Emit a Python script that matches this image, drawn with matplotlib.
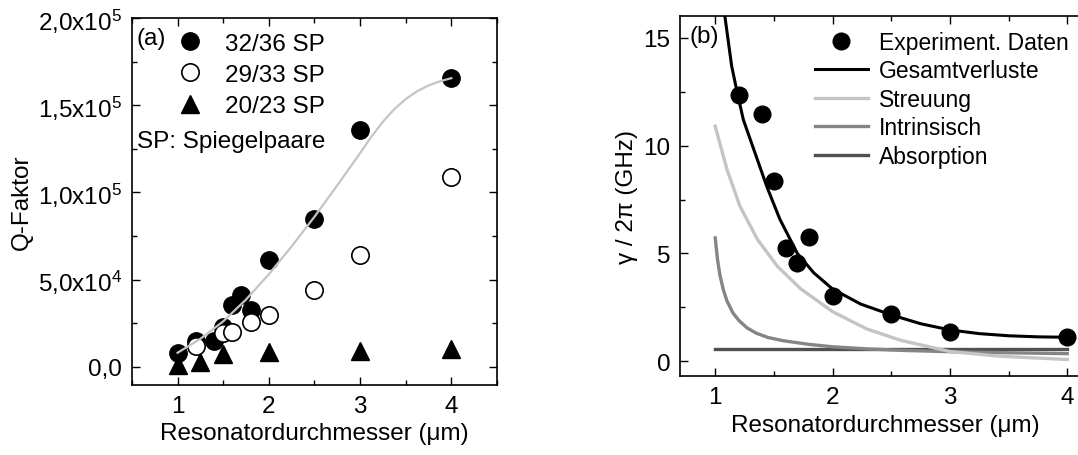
import matplotlib
matplotlib.use("Agg")
import matplotlib.pyplot as plt
from matplotlib.ticker import MultipleLocator, FuncFormatter

plt.rcParams['font.family'] = ['Liberation Sans', 'DejaVu Sans']
plt.rcParams['font.size'] = 17.5
plt.rcParams['mathtext.fontset'] = 'custom'
plt.rcParams['mathtext.rm'] = 'Liberation Sans'

# --- (a) Q-Faktor data ---
x_3236 = [1.0, 1.2, 1.4, 1.5, 1.6, 1.7, 1.8, 2.0, 2.5, 3.0, 4.0]
q_3236 = [7.9e3, 1.5e4, 1.5e4, 2.25e4, 3.55e4, 4.1e4, 3.25e4, 6.1e4, 8.45e4, 1.36e5, 1.655e5]
x_2933 = [1.2, 1.5, 1.6, 1.8, 2.0, 2.5, 3.0, 4.0]
q_2933 = [1.2e4, 1.95e4, 2.0e4, 2.55e4, 2.95e4, 4.4e4, 6.4e4, 1.09e5]
x_2023 = [1.0, 1.25, 1.5, 2.0, 3.0, 4.0]
q_2023 = [1.2e3, 2.9e3, 7.3e3, 8.3e3, 8.8e3, 1.02e4]
fit_x = [1.0, 1.25, 1.5, 1.75, 2.0, 2.25, 2.5, 2.75, 3.0, 3.125, 3.25, 3.375,
         3.5, 3.625, 3.75, 3.875, 4.0]
fit_q = [8e3, 1.6e4, 2.6e4, 3.85e4, 5.3e4, 6.9e4, 8.6e4, 1.04e5, 1.225e5, 1.32e5, 1.405e5, 1.477e5,
         1.535e5, 1.58e5, 1.613e5, 1.637e5, 1.655e5]

# --- (b) Verluste data ---
exp_x = [1.2, 1.4, 1.5, 1.6, 1.7, 1.8, 2.0, 2.5, 3.0, 4.0]
exp_g = [12.37, 11.45, 8.37, 5.23, 4.57, 5.74, 3.03, 2.18, 1.37, 1.11]
ges_x = [1.08, 1.14, 1.19, 1.24, 1.34, 1.44, 1.55, 1.70, 1.84, 2.0, 2.24, 2.5, 2.75, 3.0, 3.25, 3.5, 3.75, 4.0]
ges_g = [16.1, 13.7, 12.4, 11.2, 9.65, 8.1, 6.6, 5.0, 4.1, 3.35, 2.65, 2.15, 1.74, 1.45, 1.28, 1.18, 1.13, 1.11]
str_x = [1.0, 1.1, 1.21, 1.36, 1.53, 1.73, 2.0, 2.29, 2.58, 3.0, 3.43, 4.0]
str_g = [10.9, 8.9, 7.2, 5.65, 4.4, 3.35, 2.3, 1.5, 0.97, 0.45, 0.23, 0.08]
int_x = [1.0, 1.02, 1.04, 1.07, 1.1, 1.15, 1.2, 1.27, 1.35, 1.45, 1.58, 1.8, 2.0, 2.3, 2.6, 3.15, 4.0]
int_g = [5.72, 4.7, 4.0, 3.3, 2.8, 2.25, 1.9, 1.55, 1.3, 1.1, 0.95, 0.78, 0.67, 0.57, 0.5, 0.42, 0.35]
abs_x = [1.0, 4.0]
abs_g = [0.57, 0.57]

fig = plt.figure(figsize=(10.78, 4.56), dpi=100)
ax1 = fig.add_axes([0.1224, 0.1535, 0.3386, 0.8048])
ax2 = fig.add_axes([0.6308, 0.1726, 0.381, 0.7894])


def style_axis(ax):
    ax.tick_params(which='both', direction='in', top=True, right=True, width=1)
    ax.tick_params(which='major', length=6, pad=7)
    ax.tick_params(which='minor', length=3.5)
    for s in ax.spines.values():
        s.set_linewidth(1.2)


# ===== (a) =====
ax1.plot(x_3236, q_3236, 'o', color='black', ms=12.5, label='32/36 SP', zorder=2)
ax1.plot(x_2933, q_2933, 'o', mfc='white', mec='black', mew=1.2, ms=12.5, label='29/33 SP', zorder=3)
ax1.plot(x_2023, q_2023, '^', color='black', ms=13.5, label='20/23 SP', zorder=2)
ax1.plot(fit_x, fit_q, '-', color='#c4c4c4', lw=1.6, zorder=4)

ax1.set_xlim(0.5, 4.5)
ax1.set_ylim(-1.05e4, 2e5)
ax1.xaxis.set_major_locator(MultipleLocator(1))
ax1.xaxis.set_minor_locator(MultipleLocator(0.5))
ax1.yaxis.set_major_locator(MultipleLocator(5e4))
ax1.yaxis.set_minor_locator(MultipleLocator(2.5e4))


def q_fmt(v, pos):
    if abs(v) < 1:
        return '0,0'
    exp = len(str(int(round(v)))) - 1
    mant = f'{v / 10 ** exp:.1f}'.replace('.', '{,}')
    return r'$\mathregular{%sx10^{%d}}$' % (mant, exp)


ax1.yaxis.set_major_formatter(FuncFormatter(q_fmt))
style_axis(ax1)
ax1.set_xlabel('Resonatordurchmesser (μm)')
ax1.set_ylabel('Q-Faktor')
ax1.text(0.013, 0.975, '(a)', transform=ax1.transAxes, ha='left', va='top')
ax1.text(0.013, 0.665, 'SP: Spiegelpaare', transform=ax1.transAxes, ha='left', va='center')
ax1.legend(loc='upper left', bbox_to_anchor=(0.126, 0.96), frameon=False,
           handlelength=1.0, handletextpad=0.95, labelspacing=0.38,
           borderpad=0, borderaxespad=0, numpoints=1)

# ===== (b) =====
ax2.plot(abs_x, abs_g, '-', color='#505050', lw=2.4, label='Absorption')
ax2.plot(int_x, int_g, '-', color='#858585', lw=2.4, label='Intrinsisch')
ax2.plot(str_x, str_g, '-', color='#c4c4c4', lw=2.4, label='Streuung')
ax2.plot(ges_x, ges_g, '-', color='black', lw=2.2, label='Gesamtverluste')
ax2.plot(exp_x, exp_g, 'o', color='black', ms=12, label='Experiment. Daten')

ax2.set_xlim(0.7, 4.2)
ax2.set_ylim(-0.7, 16)
ax2.xaxis.set_major_locator(MultipleLocator(1))
ax2.xaxis.set_minor_locator(MultipleLocator(0.5))
ax2.yaxis.set_major_locator(MultipleLocator(5))
ax2.yaxis.set_minor_locator(MultipleLocator(2.5))
style_axis(ax2)
ax2.set_xlabel('Resonatordurchmesser (μm)')
ax2.set_ylabel('γ / 2π (GHz)')
ax2.text(0.022, 0.975, '(b)', transform=ax2.transAxes, ha='left', va='top')

handles, labels = ax2.get_legend_handles_labels()
order = [4, 3, 2, 1, 0]
ax2.legend([handles[i] for i in order], [labels[i] for i in order],
           loc='upper left', bbox_to_anchor=(0.329, 0.96), frameon=False,
           fontsize=16.5, handlelength=2.3, handletextpad=0.5, labelspacing=0.24,
           borderpad=0, borderaxespad=0, numpoints=1)

fig.savefig('out.png', dpi=100)
